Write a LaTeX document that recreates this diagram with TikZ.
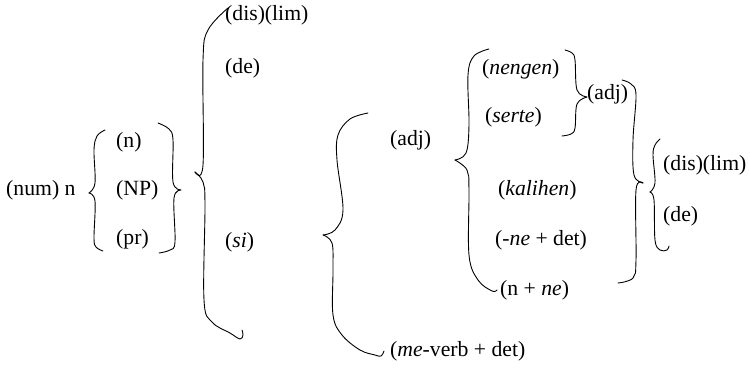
\documentclass[tikz,border=0pt]{standalone}
\usepackage{fontspec}
\setmainfont{Liberation Serif}
\begin{document}
\begin{tikzpicture}[x=1pt,y=-1pt,
  lbl/.style={anchor=west,inner sep=0pt,font=\fontsize{21.7}{26}\selectfont,text height=0.69em,text depth=0.18em},
  brc/.style={line width=0.9pt,line cap=round,line join=round}]
\useasboundingbox (0,0) rectangle (750,368);
% labels
\node[lbl] (num) at (6,193) {(num) n};
\node[lbl] (n) at (116,145) {(n)};
\node[lbl] (np) at (116,193) {(NP)};
\node[lbl] (pr) at (116,242) {(pr)};
\node[lbl] (dislimA) at (225,18) {(dis)(lim)};
\node[lbl] (deA) at (225,71) {(de)};
\node[lbl] (si) at (225,245) {(\textit{si})};
\node[lbl] (adjA) at (390,143) {(adj)};
\node[lbl] (meverb) at (390,354) {(\textit{me}-verb + det)};
\node[lbl] (nengen) at (482,72) {(\textit{nengen})};
\node[lbl] (serte) at (485,120) {(\textit{serte})};
\node[lbl] (adjB) at (587,97) {(adj)};
\node[lbl] (kalihen) at (498,193) {(\textit{kalihen})};
\node[lbl] (nedet) at (495,243) {(-\textit{ne} + det)};
\node[lbl] (nne) at (500,293) {(n + \textit{ne})};
\node[lbl] (dislimB) at (663,168) {(dis)(lim)};
\node[lbl] (deB) at (663,219) {(de)};
% braces
\draw[brc] plot[smooth,tension=0.6] coordinates {(89,193) (95,183) (94,150) (97,136) (105,130)};
\draw[brc] plot[smooth,tension=0.6] coordinates {(89,193) (95,201) (94,238) (96,247) (103,251)};
\draw[brc] plot[smooth,tension=0.6] coordinates {(181,190) (173,182) (173,140) (169,129) (158,123)};
\draw[brc] plot[smooth,tension=0.6] coordinates {(181,190) (174,198) (175,242) (170,250) (159,253)};
\draw[brc] plot[smooth,tension=0.6] coordinates {(195,172) (203,165) (203,60) (208,30) (228,8)};
\draw[brc] plot[smooth,tension=0.6] coordinates {(195,172) (203,182) (205,205) (204,300) (212,322) (230,333) (240,339) (243,335) (242,330)};
\draw[brc] plot[smooth,tension=0.6] coordinates {(323,235) (335,230) (343,210) (337,160) (338,135) (350,119) (368,113)};
\draw[brc] plot[smooth,tension=0.6] coordinates {(323,235) (332,243) (333,270) (333,315) (342,335) (360,350) (375,355) (381,356) (384,351)};
\draw[brc] plot[smooth,tension=0.6] coordinates {(455,160) (466,153) (469,125) (468,75) (474,56) (489,49)};
\draw[brc] plot[smooth,tension=0.6] coordinates {(455,160) (467,170) (469,190) (469,255) (478,280) (492,291) (497,290)};
\draw[brc] plot[smooth,tension=0.6] coordinates {(587,97) (577,90) (575,60) (572,53) (565,50)};
\draw[brc] plot[smooth,tension=0.6] coordinates {(587,97) (577,104) (575,128) (571,134) (562,136)};
\draw[brc] plot[smooth,tension=0.6] coordinates {(643,183) (634,175) (633,140) (636,95) (631,84) (622,80)};
\draw[brc] plot[smooth,tension=0.6] coordinates {(643,183) (636,190) (636,260) (633,278) (618,283)};
\draw[brc] plot[smooth,tension=0.6] coordinates {(650,192) (655,183) (653,155) (655,145) (660,139)};
\draw[brc] plot[smooth,tension=0.6] coordinates {(650,192) (654,200) (655,240) (660,250) (667,250) (669,246)};
\end{tikzpicture}
\end{document}
